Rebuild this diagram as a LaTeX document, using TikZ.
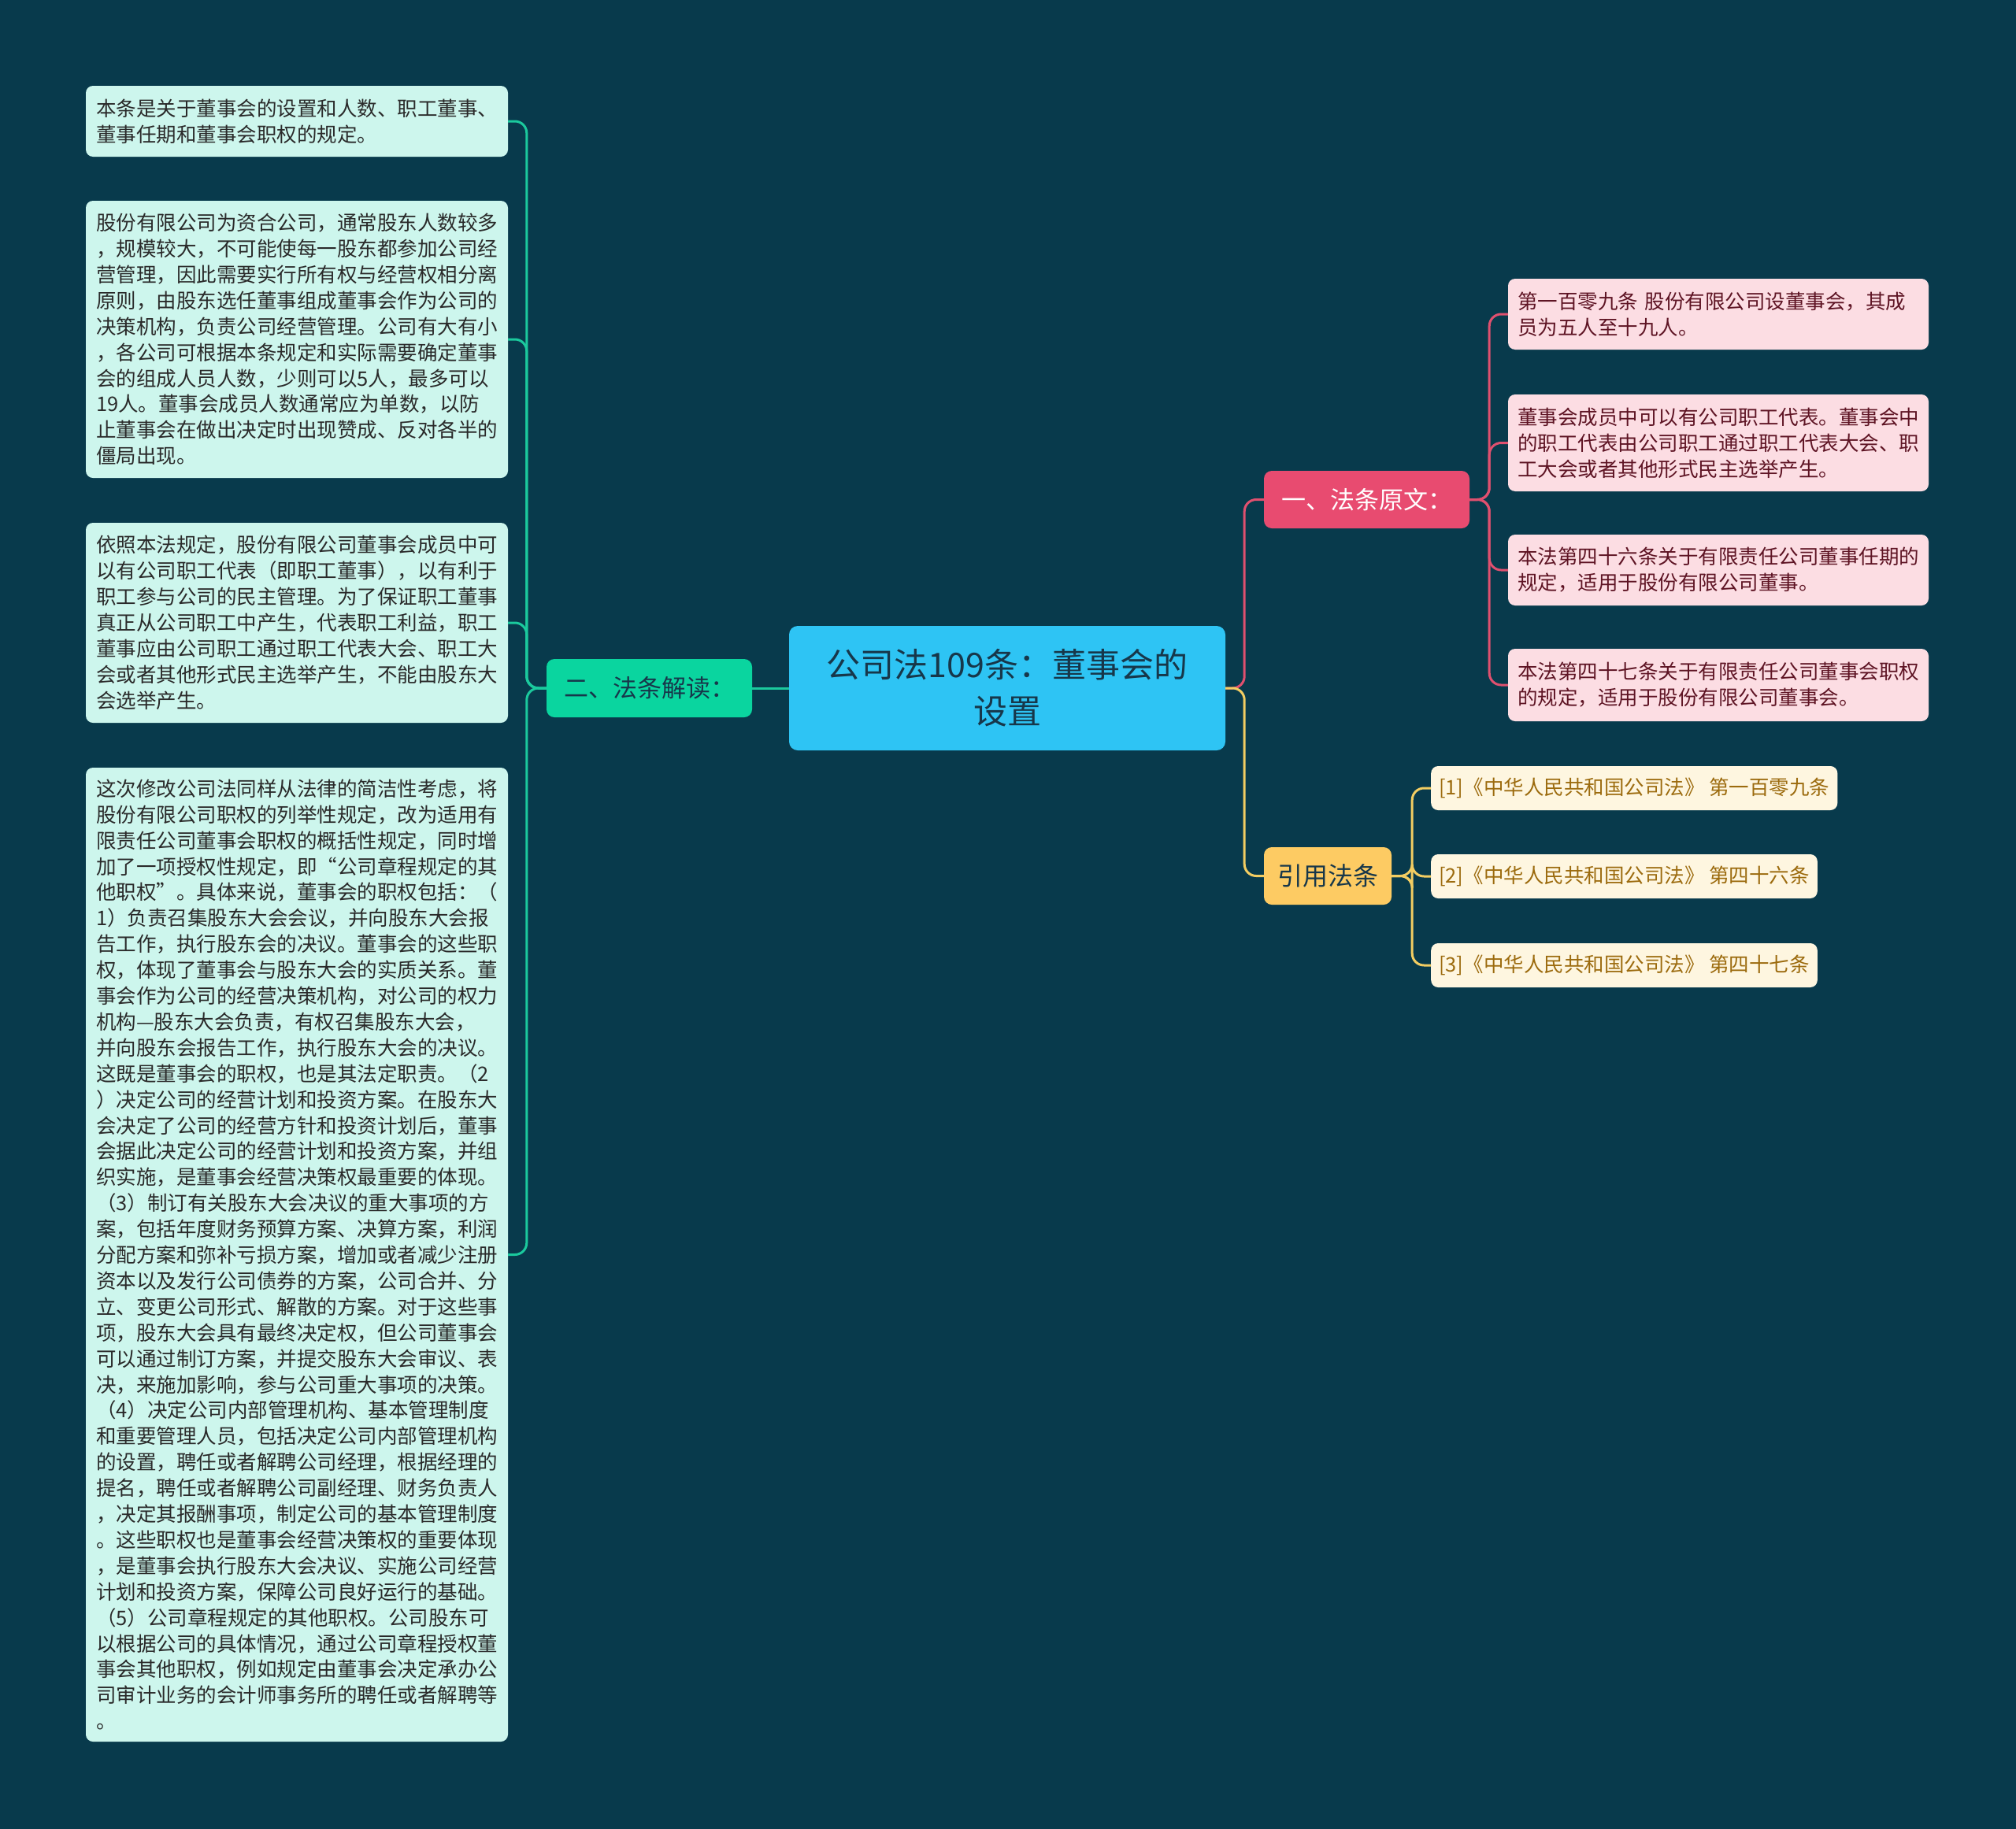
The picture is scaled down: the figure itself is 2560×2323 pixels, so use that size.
\documentclass[tikz,border=0pt]{standalone}
\usepackage{fontspec}
\setmainfont{Noto Sans CJK SC}
\usetikzlibrary{calc}
\definecolor{bg}{HTML}{083A4C}
\definecolor{centerfill}{HTML}{2EC4F4}
\definecolor{centertxt}{HTML}{17374A}
\definecolor{greenfill}{HTML}{0AD59F}
\definecolor{greenline}{HTML}{1BC99D}
\definecolor{mint}{HTML}{CDF6ED}
\definecolor{lefttxt}{HTML}{2A2A2A}
\definecolor{pinkfill}{HTML}{E84B70}
\definecolor{pinkline}{HTML}{E0506F}
\definecolor{pinkleaf}{HTML}{FCDDE3}
\definecolor{pinktxt}{HTML}{5E1424}
\definecolor{yellowfill}{HTML}{FDCB63}
\definecolor{yellowline}{HTML}{F3CD62}
\definecolor{yellowleaf}{HTML}{FEF6E0}
\definecolor{yellowtxt}{HTML}{9C6B0E}
\begin{document}
\begin{tikzpicture}[x=1pt,y=-1pt,
  leafL/.style={fill=mint, text=lefttxt, rounded corners=9pt, font=\fontsize{25.5}{32.9}\selectfont,
    align=left, text width=510pt, inner xsep=13pt, inner ysep=0pt},
  leafP/.style={fill=pinkleaf, text=pinktxt, rounded corners=9pt, font=\fontsize{25.5}{32.9}\selectfont,
    align=left, text width=510pt, inner xsep=12pt, inner ysep=0pt},
  leafY/.style={fill=yellowleaf, text=yellowtxt, rounded corners=9pt, font=\fontsize{25.5}{32.9}\selectfont,
    anchor=west, inner xsep=10pt, inner ysep=0pt, minimum height=56pt},
  topic/.style={rounded corners=10pt, inner sep=0pt, font=\fontsize{31}{38}\selectfont},
  gline/.style={draw=greenline, line width=3pt, rounded corners=15pt},
  pline/.style={draw=pinkline, line width=3pt, rounded corners=15pt},
  yline/.style={draw=yellowline, line width=3pt, rounded corners=15pt}
]
\useasboundingbox (0,0) rectangle (2560,2323);
\fill[bg] (0,0) rectangle (2560,2323);

% central node
\node[fill=centerfill, text=centertxt, rounded corners=11pt, minimum width=554pt, minimum height=158pt,
  inner sep=0pt, align=center, font=\fontsize{43}{59}\selectfont] (c) at (1279,874)
  {公司法109条：董事会的\\设置};

% main topics
\node[topic, fill=greenfill, text=centertxt, minimum width=261pt, minimum height=74pt] (g) at (824.5,874) {二、法条解读：};
\node[topic, fill=pinkfill, text=white, minimum width=261pt, minimum height=73pt] (p) at (1735.5,634.5) {一、法条原文：};
\node[topic, fill=yellowfill, text=centertxt, minimum width=162pt, minimum height=73pt, font=\fontsize{32}{38}\selectfont] (y) at (1686,1112.5) {引用法条};

% left leaves
\node[leafL, minimum height=90pt] (l1) at (377,154) {本条是关于董事会的设置和人数、职工董事、\\
董事任期和董事会职权的规定。};
\node[leafL, minimum height=352pt] (l2) at (377,431) {股份有限公司为资合公司，通常股东人数较多\\
，规模较大，不可能使每一股东都参加公司经\\
营管理，因此需要实行所有权与经营权相分离\\
原则，由股东选任董事组成董事会作为公司的\\
决策机构，负责公司经营管理。公司有大有小\\
，各公司可根据本条规定和实际需要确定董事\\
会的组成人员人数，少则可以5人，最多可以\\
19人。董事会成员人数通常应为单数，以防\\
止董事会在做出决定时出现赞成、反对各半的\\
僵局出现。};
\node[leafL, minimum height=254pt] (l3) at (377,791) {依照本法规定，股份有限公司董事会成员中可\\
以有公司职工代表（即职工董事），以有利于\\
职工参与公司的民主管理。为了保证职工董事\\
真正从公司职工中产生，代表职工利益，职工\\
董事应由公司职工通过职工代表大会、职工大\\
会或者其他形式民主选举产生，不能由股东大\\
会选举产生。};
\node[leafL, minimum height=1237pt] (l4) at (377,1593.5) {这次修改公司法同样从法律的简洁性考虑，将\\
股份有限公司职权的列举性规定，改为适用有\\
限责任公司董事会职权的概括性规定，同时增\\
加了一项授权性规定，即“公司章程规定的其\\
他职权”。具体来说，董事会的职权包括：（\\
1）负责召集股东大会会议，并向股东大会报\\
告工作，执行股东会的决议。董事会的这些职\\
权，体现了董事会与股东大会的实质关系。董\\
事会作为公司的经营决策机构，对公司的权力\\
机构—股东大会负责，有权召集股东大会，\\
并向股东会报告工作，执行股东大会的决议。\\
这既是董事会的职权，也是其法定职责。（2\\
）决定公司的经营计划和投资方案。在股东大\\
会决定了公司的经营方针和投资计划后，董事\\
会据此决定公司的经营计划和投资方案，并组\\
织实施，是董事会经营决策权最重要的体现。\\
（3）制订有关股东大会决议的重大事项的方\\
案，包括年度财务预算方案、决算方案，利润\\
分配方案和弥补亏损方案，增加或者减少注册\\
资本以及发行公司债券的方案，公司合并、分\\
立、变更公司形式、解散的方案。对于这些事\\
项，股东大会具有最终决定权，但公司董事会\\
可以通过制订方案，并提交股东大会审议、表\\
决，来施加影响，参与公司重大事项的决策。\\
（4）决定公司内部管理机构、基本管理制度\\
和重要管理人员，包括决定公司内部管理机构\\
的设置，聘任或者解聘公司经理，根据经理的\\
提名，聘任或者解聘公司副经理、财务负责人\\
，决定其报酬事项，制定公司的基本管理制度\\
。这些职权也是董事会经营决策权的重要体现\\
，是董事会执行股东大会决议、实施公司经营\\
计划和投资方案，保障公司良好运行的基础。\\
（5）公司章程规定的其他职权。公司股东可\\
以根据公司的具体情况，通过公司章程授权董\\
事会其他职权，例如规定由董事会决定承办公\\
司审计业务的会计师事务所的聘任或者解聘等\\
。};

% pink leaves
\node[leafP, minimum height=90pt] (r1) at (2182,399) {第一百零九条 股份有限公司设董事会，其成\\
员为五人至十九人。};
\node[leafP, minimum height=123pt] (r2) at (2182,562.5) {董事会成员中可以有公司职工代表。董事会中\\
的职工代表由公司职工通过职工代表大会、职\\
工大会或者其他形式民主选举产生。};
\node[leafP, minimum height=90pt] (r3) at (2182,724) {本法第四十六条关于有限责任公司董事任期的\\
规定，适用于股份有限公司董事。};
\node[leafP, minimum height=92pt] (r4) at (2182,870) {本法第四十七条关于有限责任公司董事会职权\\
的规定，适用于股份有限公司董事会。};

% yellow leaves
\node[leafY] (y1) at (1817,1001) {[1]《中华人民共和国公司法》 第一百零九条};
\node[leafY] (y2) at (1817,1113) {[2]《中华人民共和国公司法》 第四十六条};
\node[leafY] (y3) at (1817,1226) {[3]《中华人民共和国公司法》 第四十七条};

% connectors
\draw[gline] (c.west) -- (g.east);
\foreach \n in {l1,l2,l3,l4}{
  \draw[gline] (g.west) -- ++(-25,0) |- (\n.east);
}
\draw[pline] (c.east) -- ++(24,0) |- (p.west);
\draw[yline] (c.east) -- ++(24,0) |- (y.west);
\foreach \n in {r1,r2,r3,r4}{
  \draw[pline] (p.east) -- ++(25,0) |- (\n.west);
}
\foreach \n in {y1,y2,y3}{
  \draw[yline] (y.east) -- ++(26,0) |- (\n.west);
}
\end{tikzpicture}
\end{document}
